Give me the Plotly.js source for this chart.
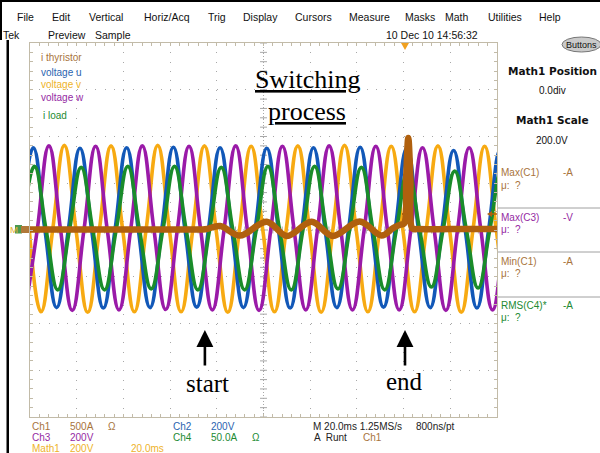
<!DOCTYPE html>
<html><head><meta charset="utf-8">
<script src="https://cdn.plot.ly/plotly-3.0.1.min.js"></script>
<style>html,body{margin:0;padding:0;background:#fff;overflow:hidden}#chart{width:600px;height:453px}</style>
</head><body><div id="chart"></div>
<script>
// ---------------- data ----------------
// time in ms (20 ms/div, 10 div), voltages in V (200 V/div), i load in A (50 A/div), i thyristor in A (500 A/div)
const uT = [-3.6,1.4,6.4,11.4,16.4,21.4,26.4,31.4,36.4,41.4,46.4,51.4,56.4,61.4,66.4,71.4,76.4,81.4,86.4,91.4,96.4,101.4,106.4,111.4,116.4,121.4,126.4,131.4,136.4,141.4,146.4,151.4,156.4,161.4,166.4,171.4,176.4,181.4,186.4,191.4,196.4,201.4,206.4];
const uV = [0,352,0,-332,0,350,0,-334,0,352,0,-332,0,354,0,-330,0,352,0,-332,0,350,0,-334,0,352,0,-332,0,354,0,-330,0,350,0,-332,0,340,0,-334,0,342,0];
const vT = [-0.3,4.7,9.7,14.7,19.7,24.7,29.7,34.7,39.7,44.7,49.7,54.7,59.7,64.7,69.7,74.7,79.7,84.7,89.7,94.7,99.7,104.7,109.7,114.7,119.7,124.7,129.7,134.7,139.7,144.7,149.7,154.7,159.7,164.7,169.7,174.7,179.7,184.7,189.7,194.7,199.7,204.7,209.7];
const vV = [0,-350,0,362,0,-352,0,360,0,-350,0,362,0,-350,0,360,0,-352,0,358,0,-350,0,360,0,-352,0,362,0,-350,0,358,0,-350,0,360,0,-352,0,358,0,-350,0];
const wT = [-1.9,3.1,8.1,13.1,18.1,23.1,28.1,33.1,38.1,43.1,48.1,53.1,58.1,63.1,68.1,73.1,78.1,83.1,88.1,93.1,98.1,103.1,108.1,113.1,118.1,123.1,128.1,133.1,138.1,143.1,148.1,153.1,158.1,163.1,168.1,173.1,178.1,183.1,188.1,193.1,198.1,203.1,208.1];
const wV = [-342,0,360,0,-344,0,358,0,-342,0,360,0,-340,0,358,0,-342,0,360,0,-344,0,358,0,-342,0,360,0,-342,0,358,0,-342,0,352,0,-344,0,352,0,-342,0,352];
const gT = [-3.1,1.9,6.9,11.9,16.9,21.9,26.9,31.9,36.9,41.9,46.9,51.9,56.9,61.9,66.9,71.9,76.9,81.9,86.9,91.9,96.9,101.9,106.9,111.9,116.9,121.9,126.9,131.9,136.9,141.9,146.9,151.9,156.9,161.9,166.9,171.9,176.9,181.9,186.9,191.9,196.9,201.9,206.9];
const gA = [0,68,0,-64,0,67,0,-64,0,68,0,-63,0,68,0,-64,0,67,0,-64,0,68,0,-64,0,68,0,-63,0,67,0,-64,0,63,0,-61,0,63,0,-62,0,63,0];
const thT = [0,25,50,70,75,81.4,89.9,101.4,110,120.6,129.6,141.2,150.6,155.5,158.5,160.2,161.1,162,162.9,163.8,166,180,200];
const thA = [5,5,5,5,8,42,-60,89,-64,89,-64,91,-59,20,55,70,560,984,560,15,10,10,10];

const legendNames = ['i thyristor','voltage u','voltage v','voltage w','i load'];
const menuItems = ['File','Edit','Vertical','Horiz/Acq','Trig','Display','Cursors','Measure','Masks','Math','Utilities','Help'];
const menuX = [16,51,88,143,207,242,294,348,404,444,487,538];
const startT = 74.9, endT = 160.6;

// ---------------- styling ----------------
const C = {brown:'#b0600e', blue:'#1258b8', orange:'#f7aa12', purple:'#9a1aa8', green:'#1a8c2a',
           tBrown:'#a8743c', tBlue:'#2a64b0', tOrange:'#eeb32a', tPurple:'#952aa3', tGreen:'#228a32', grat:'#c2bba8', dot:'#a8a8a8'};
const L = 30, R = 497, T = 43, B = 417, W = R - L, H = B - T;
const px = v => (v - L) / W, py = v => (B - v) / H;
const SANS = 'Liberation Sans, Arial, sans-serif';
const ann = [];
function txt(text, x, y, color, size, o) {
  o = o || {};
  ann.push(Object.assign({text, xref:'paper', yref:'paper', x:px(x), y:py(y), xanchor:'left', yanchor:'middle',
    showarrow:false, borderpad:0, font:{family:SANS, size:size||10, color:color||'#000'}}, o));
}
menuItems.forEach((m, i) => txt(m, menuX[i], 17, '#111', 10.5));
txt('Tek', 2, 35, '#111', 10.5); txt('Preview', 47, 35, '#111', 10.5); txt('Sample', 94, 35, '#111', 10.5);
txt('10 Dec 10 14:56:32', 385, 35, '#111', 10.5);
txt('Buttons', 581, 44.5, '#111', 9, {xanchor:'center'});
const legendColors = [C.tBrown, C.tBlue, C.tOrange, C.tPurple, C.tGreen];
const legendY = [57, 72, 84, 97, 115];
legendNames.forEach((n, i) => txt(n, i === 4 ? 42 : 40, legendY[i], legendColors[i], 10));
// right panel
const DV = 'DejaVu Sans, sans-serif';
txt('<b>Math1 Position</b>', 552, 71.5, '#111', 10.5, {xanchor:'center', font:{family:DV,size:10.5,color:'#111'}});
txt('0.0div', 552, 91, '#111', 10, {xanchor:'center'});
txt('<b>Math1 Scale</b>', 552, 120, '#111', 10.5, {xanchor:'center', font:{family:DV,size:10.5,color:'#111'}});
txt('200.0V', 552, 140, '#111', 10, {xanchor:'center'});
const meas = [['Max(C1)','-A',C.tBrown,173],['Max(C3)','-V',C.tPurple,217],['Min(C1)','-A',C.tBrown,261],['RMS(C4)*','-A',C.tGreen,305]];
meas.forEach(m => { txt(m[0], 500, m[3], m[2], 10); txt(m[1], 562, m[3], m[2], 10); txt('\u03bc:  ?', 500, m[3] + 12.5, m[2], 10); });
// bottom status
const bot = [['Ch1',31,426,C.tBrown],['500A',69,426,C.tBrown],['\u03a9',107,426,C.tBrown],['Ch2',172,426,C.tBlue],['200V',210,426,C.tBlue],
  ['M 20.0ms 1.25MS/s',312,426,'#222'],['800ns/pt',415,426,'#222'],
  ['Ch3',31,437.5,C.tPurple],['200V',69,437.5,C.tPurple],['Ch4',172,437.5,C.tGreen],['50.0A',210,437.5,C.tGreen],['\u03a9',251,437.5,C.tGreen],
  ['A  Runt',313,437.5,'#222'],['Ch1',362,437.5,C.tBrown],
  ['Math1',31,449,C.tOrange],['200V',69,449,C.tOrange],['20.0ms',130,449,C.tOrange]];
bot.forEach(b => txt(b[0], b[1], b[2], b[3], 10));
// left marker label
txt('M', 9, 229, '#e8b030', 9.5, {font:{family:SANS,size:9.5,color:'#e8b030'}});
// hand-written annotations
const SERIF = 'Liberation Serif, Times New Roman, serif';
txt('<u>Switching</u>', 307, 80, '#000', 26, {xanchor:'center', font:{family:SERIF,size:26,color:'#000'}});
txt('<u>process</u>', 307, 112, '#000', 26, {xanchor:'center', font:{family:SERIF,size:26,color:'#000'}});
txt('start', 207, 383, '#000', 25, {xanchor:'center', font:{family:SERIF,size:25,color:'#000'}});
txt('end', 404, 381, '#000', 25, {xanchor:'center', font:{family:SERIF,size:25,color:'#000'}});
[startT, endT].forEach(t => ann.push({text:'', x:t, xref:'x', y:py(330), yref:'paper', showarrow:true, ax:0, ay:37,
  arrowhead:2, arrowsize:1.3, arrowwidth:2.6, arrowcolor:'#000', standoff:0, startstandoff:0}));

const shapes = [
  {type:'rect', xref:'paper', yref:'paper', x0:px(0), x1:px(600), y0:py(0), y1:py(2), fillcolor:'#000', line:{width:0}},
  {type:'rect', xref:'paper', yref:'paper', x0:px(0), x1:px(2), y0:py(0), y1:py(40), fillcolor:'#000', line:{width:0}},
  {type:'rect', xref:'paper', yref:'paper', x0:px(6.5), x1:px(9), y0:py(40), y1:py(453), fillcolor:'#000', line:{width:0}},
  {type:'circle', xref:'paper', yref:'paper', x0:px(562), x1:px(601), y0:py(37), y1:py(52), fillcolor:'#cacaca', line:{color:'#777', width:1}},
  {type:'line', xref:'x', yref:'y', x0:100, x1:100, y0:-800, y1:800, line:{color:C.dot, width:1, dash:'1px,2px'}, layer:'below'},
  {type:'line', xref:'x', yref:'y', x0:0, x1:200, y0:0, y1:0, line:{color:C.dot, width:1, dash:'1px,2px'}, layer:'below'},
  // trigger markers
  {type:'path', xref:'x', yref:'paper', path:`M158.9,1 L162.3,1 L160.6,${py(50)} Z`, fillcolor:'#f0a020', line:{width:0}},
  {type:'line', xref:'x', yref:'paper', x0:159.3, x1:161.6, y0:py(214), y1:py(214), line:{color:C.brown, width:2}},
  {type:'path', xref:'paper', yref:'paper', path:`M${px(487)},${py(214)} L${px(492)},${py(211)} L${px(492)},${py(217)} Z`, fillcolor:C.brown, line:{width:0}},
  {type:'line', xref:'paper', yref:'paper', x0:px(490), x1:px(497), y0:py(214), y1:py(214), line:{color:C.brown, width:1.5}},
  // left channel markers
  {type:'rect', xref:'paper', yref:'paper', x0:px(15), x1:px(22), y0:py(233.5), y1:py(225), fillcolor:'#4a9a50', line:{width:0}},
  {type:'rect', xref:'paper', yref:'paper', x0:px(21), x1:px(29), y0:py(233), y1:py(226), fillcolor:'#b07838', line:{width:0}}
];
[208, 252, 297].forEach(y => shapes.push({type:'line', xref:'paper', yref:'paper', x0:px(498), x1:px(600), y0:py(y), y1:py(y), line:{color:'#a0a0a0', width:1}}));

// graticule ticks on the centre cross (every 1/5 division)
const tkX = [], tkY = [], tkX2 = [], tkY2 = [];
for (let i = 0; i <= 40; i++) { tkX.push(100); tkY.push(-800 + i * 40); }
for (let i = 0; i <= 50; i++) { tkX2.push(i * 4); tkY2.push(0); }

const lineStyle = (c, w) => ({color:c, width:w, shape:'spline', smoothing:1.3});
const traces = [
  {x:tkX, y:tkY, mode:'markers', marker:{symbol:'line-ew', size:5, line:{width:1, color:C.dot}}, hoverinfo:'skip'},
  {x:tkX2, y:tkY2, mode:'markers', marker:{symbol:'line-ns', size:5, line:{width:1, color:C.dot}}, hoverinfo:'skip'},
  {name:legendNames[2], x:vT, y:vV, mode:'lines', line:lineStyle(C.orange, 3.6)},
  {name:legendNames[1], x:uT, y:uV, mode:'lines', line:lineStyle(C.blue, 3.6)},
  {name:legendNames[3], x:wT, y:wV, mode:'lines', line:lineStyle(C.purple, 3.6)},
  {name:legendNames[4], x:gT, y:gA, yaxis:'y2', mode:'lines', line:lineStyle(C.green, 3.6)},
  {name:legendNames[0], x:thT, y:thA, yaxis:'y3', mode:'lines', line:{color:C.brown, width:6.5, shape:'spline', smoothing:1}}
];
const axBase = {showgrid:true, gridcolor:C.dot, griddash:'1px,8.35px', gridwidth:1, zeroline:false, showline:true, linecolor:C.grat,
  linewidth:1, mirror:'ticks', ticks:'inside', ticklen:3, tickcolor:C.grat, showticklabels:false, fixedrange:true};
const layout = {
  width:600, height:453, margin:{l:L, r:600 - R, t:T, b:453 - B, pad:0},
  paper_bgcolor:'#fff', plot_bgcolor:'#fff', showlegend:false,
  xaxis:Object.assign({}, axBase, {range:[0,200], tick0:0, dtick:20, minor:{dtick:4, ticks:'inside', ticklen:3, tickcolor:C.grat, showgrid:false}}),
  yaxis:Object.assign({}, axBase, {range:[-800,800], tick0:0, dtick:200, minor:{dtick:40, ticks:'inside', ticklen:3, tickcolor:C.grat, showgrid:false}}),
  yaxis2:{range:[-200,200], overlaying:'y', visible:false, fixedrange:true},
  yaxis3:{range:[-2000,2000], overlaying:'y', visible:false, fixedrange:true},
  shapes, annotations:ann
};
Plotly.newPlot('chart', traces, layout, {staticPlot:true, displayModeBar:false});
</script></body></html>
